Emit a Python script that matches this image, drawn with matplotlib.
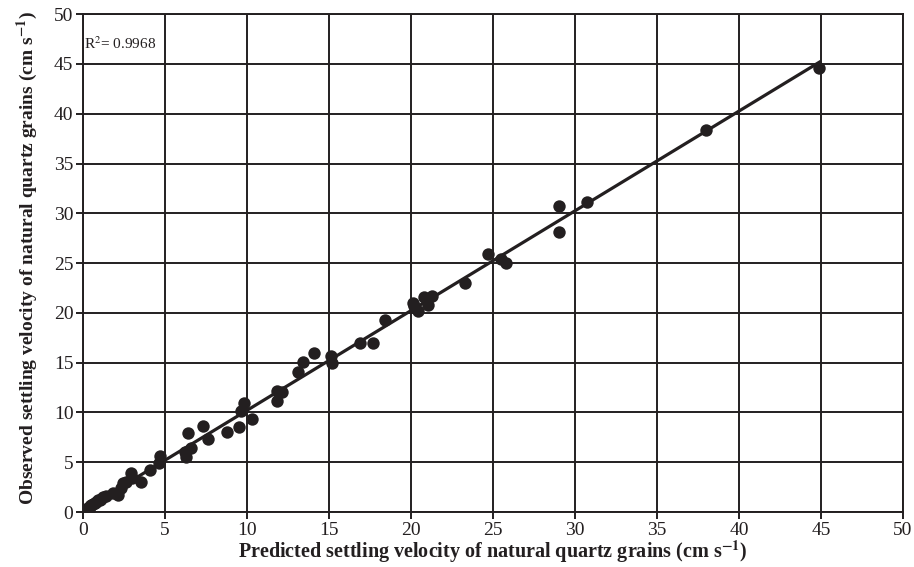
import numpy as np
import matplotlib
matplotlib.use("Agg")
import matplotlib.pyplot as plt

# Predicted vs observed settling velocity (cm/s)
predicted = [0.0, 0.1, 0.15, 0.2, 0.3, 0.35, 0.4, 0.5, 0.6, 0.7, 0.8, 0.9,
             1.0, 1.1, 1.2, 1.4, 1.8, 2.1, 2.3, 2.4, 2.6, 2.9, 3.0, 3.5,
             4.1, 4.6, 4.7,
             6.2, 6.3, 6.4, 6.6, 7.3, 7.6, 8.8, 9.5, 9.6, 9.8, 10.3,
             11.8, 11.8, 12.1, 13.1, 13.4, 14.1, 15.1, 15.2, 16.9, 17.7,
             18.4, 20.1, 20.2, 20.4, 20.8, 21.0, 21.3,
             23.3, 24.7, 25.5, 25.8, 29.0, 29.0, 30.7, 38.0, 44.9]
observed = [0.1, 0.2, 0.1, 0.3, 0.4, 0.3, 0.6, 0.7, 0.8, 0.9, 1.0, 1.2,
            1.2, 1.3, 1.5, 1.6, 1.9, 1.7, 2.4, 2.9, 3.0, 3.9, 3.4, 3.0,
            4.2, 4.9, 5.6,
            6.0, 5.5, 7.9, 6.4, 8.6, 7.3, 8.0, 8.5, 10.1, 10.9, 9.3,
            11.1, 12.2, 12.1, 14.1, 15.1, 16.0, 15.7, 15.0, 17.0, 17.0,
            19.3, 21.0, 20.7, 20.2, 21.6, 20.8, 21.7,
            23.0, 25.9, 25.4, 25.0, 30.7, 28.1, 31.1, 38.4, 44.6]
r2_label = "R$^2$= 0.9968"

plt.rcParams['font.family'] = ['Liberation Serif', 'DejaVu Serif']
plt.rcParams['mathtext.fontset'] = 'stix'

ink = '#231f20'

fig = plt.figure(figsize=(9.14, 5.67), dpi=100)
ax = fig.add_axes([0.091, 0.097, 0.897, 0.878])

ax.scatter(predicted, observed, s=80, color=ink, zorder=3, linewidths=0)

# linear trend line over the data range
slope, intercept = np.polyfit(predicted, observed, 1)
xs = np.array([min(predicted), max(predicted)])
ax.plot(xs, slope * xs + intercept, color=ink, lw=2.3, zorder=4)

ax.set_xlim(0, 50)
ax.set_ylim(0, 50)
ax.set_xticks(range(0, 51, 5))
ax.set_yticks(range(0, 51, 5))
ax.grid(True, color=ink, lw=1.4)
ax.set_axisbelow(True)
for s in ax.spines.values():
    s.set_color(ink)
    s.set_linewidth(1.4)
ax.tick_params(direction='out', length=5, width=1.4, color=ink,
               labelsize=14, labelcolor=ink, pad=2)

ax.set_xlabel("Predicted settling velocity of natural quartz grains (cm s$^{\\mathbf{-1}}$)",
              fontsize=14.5, fontweight='bold', color=ink, labelpad=0)
ax.set_ylabel("Observed settling velocity of natural quartz grains (cm s$^{\\mathbf{-1}}$)",
              fontsize=14, fontweight='bold', color=ink)
ax.yaxis.set_label_coords(-0.053, 0.51)

ax.text(0.05, 47.0, r2_label, fontsize=11, color=ink, ha='left', va='center')

fig.savefig("out.png", dpi=100)
